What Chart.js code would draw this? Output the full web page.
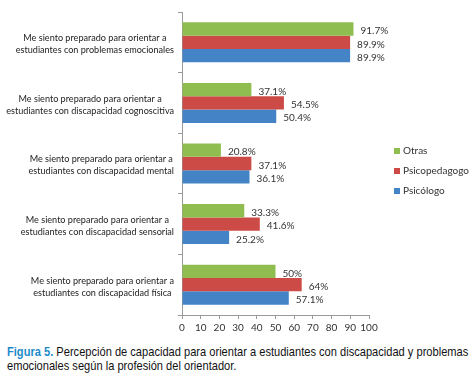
<!DOCTYPE html>
<html>
<head>
<meta charset="utf-8">
<script src="https://cdn.jsdelivr.net/npm/chart.js@4/dist/chart.umd.min.js"></script>
<style>
  body { margin: 0; background: #fff; }
  #wrap { position: relative; width: 474px; height: 338px; }
  .cap {
    position: absolute; left: 7px; white-space: nowrap;
    font-family: "Liberation Sans", Arial, sans-serif;
    font-size: 13.5px; color: #111; transform-origin: 0 0;
  }
  .cap b { color: #1b8bc8; font-weight: bold; }
</style>
</head>
<body>
<div id="wrap"><canvas id="chart"></canvas></div>
<div class="cap" id="cap1" style="top:344px"><b>Figura 5.</b> Percepción de capacidad para orientar a estudiantes con discapacidad y problemas</div>
<div class="cap" id="cap2" style="top:358px">emocionales según la profesión del orientador.</div>
<script>
// categorias (de arriba a abajo)
let categories = [
    ['Me siento preparado para orientar a', 'estudiantes con problemas emocionales'],
    ['Me siento preparado para orientar a', 'estudiantes con discapacidad cognoscitiva'],
    ['Me siento preparado para orientar a', 'estudiantes con discapacidad mental'],
    ['Me siento preparado para orientar a', 'estudiantes con discapacidad sensorial'],
    ['Me siento preparado para orientar a', 'estudiantes con discapacidad física']
];
let otras = [91.7, 37.1, 20.8, 33.3, 50];
let psicopedagogo = [89.9, 54.5, 37.1, 41.6, 64];
let psicologo = [89.9, 50.4, 36.1, 25.2, 57.1];
let xTicks = [0, 10, 20, 30, 40, 50, 60, 70, 80, 90, 100];

const font = 'Lato, "Open Sans", sans-serif';

// pie de figura condensado
const c1 = document.getElementById('cap1');
const c2 = document.getElementById('cap2');
const k = 461 / c1.scrollWidth;
c1.style.transform = 'scaleX(' + k + ')';
c2.style.transform = 'scaleX(' + k + ')';

// etiquetas de valor al final de cada barra
const valueLabels = {
    id: 'valueLabels',
    afterDatasetsDraw(chart) {
        const ctx = chart.ctx;
        ctx.save();
        ctx.font = '10px ' + font;
        ctx.fillStyle = '#333';
        ctx.textBaseline = 'middle';
        ctx.textAlign = 'left';
        chart.data.datasets.forEach((ds, i) => {
            chart.getDatasetMeta(i).data.forEach((bar, j) => {
                ctx.fillText(ds.data[j] + '%', bar.x + 7, bar.y + 2);
            });
        });
        ctx.restore();
    }
};

// etiquetas de categoria: bloque alineado a la derecha, lineas centradas
const catLabels = {
    id: 'catLabels',
    afterDraw(chart) {
        const ctx = chart.ctx;
        const yScale = chart.scales.y;
        ctx.save();
        ctx.font = '9.1px ' + font;
        ctx.fillStyle = '#222';
        ctx.textBaseline = 'middle';
        ctx.textAlign = 'center';
        chart.data.labels.forEach((lines, i) => {
            const y = yScale.getPixelForTick(i) + 2;
            const w = Math.max(...lines.map(l => ctx.measureText(l).width));
            const cx = 174 - w / 2;
            lines.forEach((l, n) => {
                ctx.fillText(l, cx, y + (n - (lines.length - 1) / 2) * 12);
            });
        });
        ctx.restore();
    }
};

// leyenda a la derecha
const sideLegend = {
    id: 'sideLegend',
    afterDraw(chart) {
        const ctx = chart.ctx;
        const x = chart.chartArea.right + 25;
        let y = 151;
        ctx.save();
        ctx.font = '10px ' + font;
        ctx.textBaseline = 'middle';
        chart.data.datasets.forEach(ds => {
            ctx.fillStyle = ds.backgroundColor;
            ctx.fillRect(x, y - 3, 6, 6);
            ctx.fillStyle = '#333';
            ctx.fillText(ds.label, x + 9, y);
            y += 20;
        });
        ctx.restore();
    }
};

new Chart(document.getElementById('chart'), {
    type: 'bar',
    data: {
        labels: categories,
        datasets: [
            { label: 'Otras', data: otras, backgroundColor: '#8fbd4f' },
            { label: 'Psicopedagogo', data: psicopedagogo, backgroundColor: '#cc4b47' },
            { label: 'Psicólogo', data: psicologo, backgroundColor: '#4383c6' }
        ]
    },
    options: {
        indexAxis: 'y',
        responsive: true,
        maintainAspectRatio: false,
        animation: false,
        categoryPercentage: 0.66,
        barPercentage: 1,
        layout: { padding: { top: 12, right: 105, left: 0, bottom: 0 } },
        plugins: { legend: { display: false }, tooltip: { enabled: false } },
        scales: {
            x: {
                min: 0, max: 100,
                afterFit(scale) { scale.height = 23; },
                afterBuildTicks(scale) { scale.ticks = xTicks.map(v => ({ value: v })); },
                grid: { drawOnChartArea: false, drawTicks: true, tickLength: 4, color: '#999' },
                border: { color: '#999' },
                ticks: { font: { family: font, size: 10 }, color: '#333', padding: 3, maxRotation: 0, autoSkip: false }
            },
            y: {
                afterFit(scale) { scale.width = 182; },
                grid: { offset: true, drawOnChartArea: false, drawTicks: true, tickLength: 4, color: '#999' },
                border: { color: '#999' },
                ticks: { display: false }
            }
        }
    },
    plugins: [valueLabels, catLabels, sideLegend]
});
</script>
</body>
</html>
